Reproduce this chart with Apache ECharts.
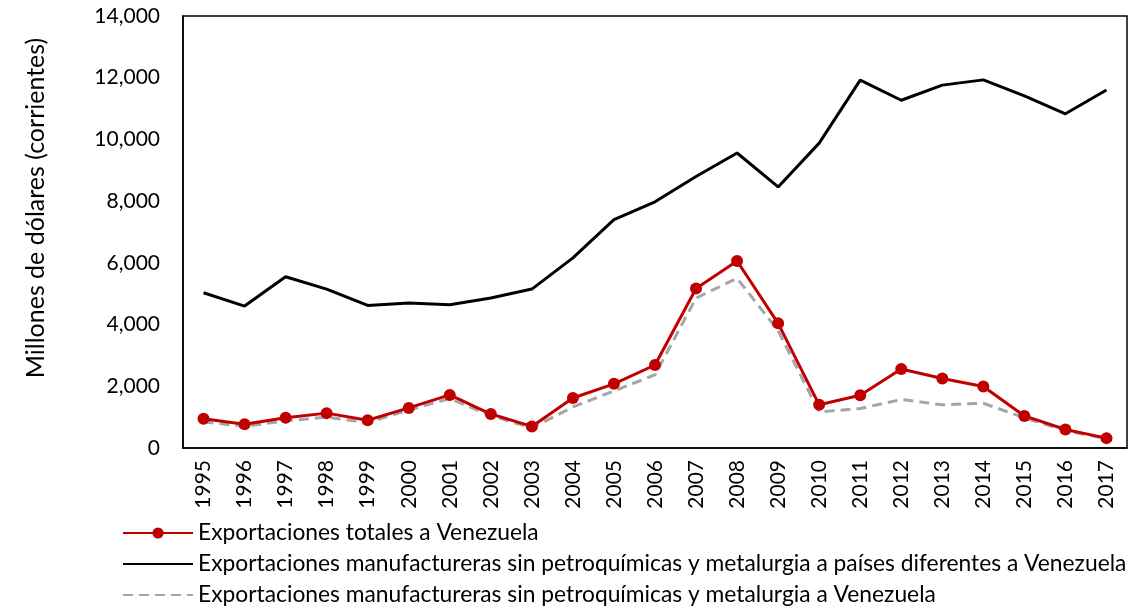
<!DOCTYPE html>
<html>
<head>
<meta charset="utf-8">
<script src="https://cdn.jsdelivr.net/npm/echarts@6/dist/echarts.min.js"></script>
<style>
  html, body { margin: 0; padding: 0; background: #fff; }
  #chart { width: 1140px; height: 609px; }
</style>
</head>
<body>
<div id="chart"></div>
<script>
var years = ['1995', '1996', '1997', '1998', '1999', '2000', '2001', '2002', '2003', '2004', '2005',
    '2006', '2007', '2008', '2009', '2010', '2011', '2012', '2013', '2014', '2015', '2016', '2017'];

// Exportaciones totales a Venezuela
var totalVzla = [950, 770, 980, 1130, 900, 1300, 1720, 1100, 700, 1620, 2080,
    2690, 5170, 6060, 4040, 1400, 1710, 2560, 2250, 1990, 1040, 600, 320];

// manufactureras a paises diferentes a Venezuela
var manufOtros = [5030, 4600, 5550, 5150, 4620, 4700, 4640, 4860, 5150, 6160, 7400,
    7980, 8800, 9560, 8460, 9880, 11920, 11270, 11760, 11930, 11410, 10830, 11600];

// manufactureras a Venezuela
var manufVzla = [850, 700, 880, 1000, 820, 1230, 1600, 1050, 650, 1330, 1850,
    2370, 4860, 5500, 3800, 1170, 1280, 1570, 1400, 1450, 980, 560, 300];

var seriesNames = [
    'Exportaciones totales a Venezuela',
    'Exportaciones manufactureras sin petroquímicas y metalurgia a países diferentes a Venezuela',
    'Exportaciones manufactureras sin petroquímicas y metalurgia a Venezuela'
];

var font = 'Lato, Open Sans, sans-serif';

var chart = echarts.init(document.getElementById('chart'), null, { renderer: 'canvas' });

chart.setOption({
    animation: false,
    textStyle: { fontFamily: font, color: '#000' },
    grid: {
        left: 183,
        right: 13,
        top: 16,
        bottom: 161,
        show: true,
        borderColor: '#000',
        borderWidth: 1.5,
        containLabel: false
    },
    legend: {
        orient: 'vertical',
        left: 122,
        top: 521,
        height: 100,
        padding: 0,
        itemWidth: 70,
        itemHeight: 14,
        itemGap: 7,
        textStyle: { fontSize: 22.8, lineHeight: 24, fontFamily: font, color: '#000' },
        data: seriesNames
    },
    xAxis: {
        type: 'category',
        data: years,
        boundaryGap: true,
        axisLine: { show: true, lineStyle: { color: '#000', width: 1.5 } },
        axisTick: { show: false },
        axisLabel: { rotate: 90, fontSize: 21, color: '#000', margin: 12, fontFamily: font }
    },
    yAxis: {
        type: 'value',
        min: 0,
        max: 14000,
        interval: 2000,
        name: 'Millones de dólares (corrientes)',
        nameLocation: 'middle',
        nameGap: 135,
        nameTextStyle: { fontSize: 25, color: '#000', fontFamily: font, padding: [0, 0, 0, 48] },
        axisLine: { show: true, lineStyle: { color: '#000', width: 1.5 } },
        axisTick: { show: false },
        splitLine: { show: false },
        axisLabel: {
            fontSize: 21,
            color: '#000',
            margin: 23,
            fontFamily: font,
            formatter: function (v) { return v.toLocaleString('en-US'); }
        }
    },
    series: [
        {
            name: seriesNames[0],
            type: 'line',
            data: totalVzla,
            symbol: 'circle',
            symbolSize: 12,
            z: 3,
            lineStyle: { color: '#c00000', width: 3 },
            itemStyle: { color: '#c00000' }
        },
        {
            name: seriesNames[1],
            type: 'line',
            data: manufOtros,
            symbol: 'circle',
            showSymbol: false,
            lineStyle: { color: '#000', width: 3 },
            // transparent so the legend shows only the line
            itemStyle: { color: 'rgba(0,0,0,0)' }
        },
        {
            name: seriesNames[2],
            type: 'line',
            data: manufVzla,
            symbol: 'circle',
            showSymbol: false,
            z: 2,
            lineStyle: { color: '#a6a6a6', width: 3, type: [10, 6] },
            itemStyle: { color: 'rgba(0,0,0,0)' }
        }
    ]
});
</script>
</body>
</html>
